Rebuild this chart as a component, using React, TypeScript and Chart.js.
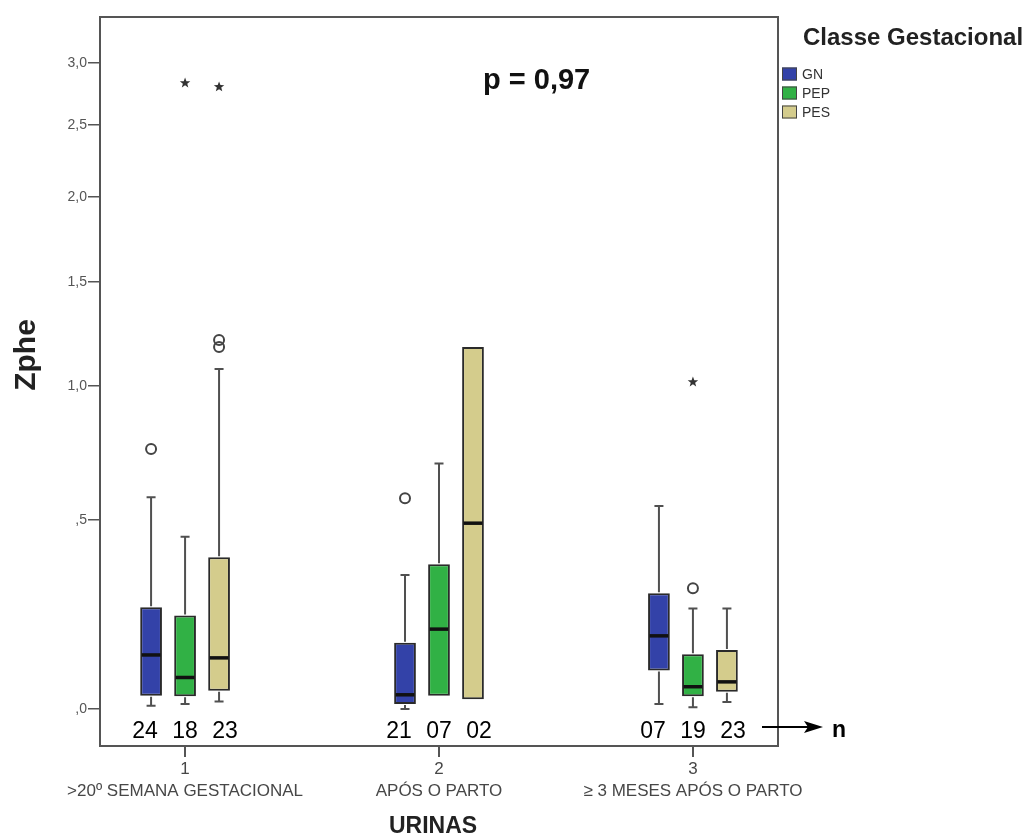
import React, { useEffect, useRef } from 'react';
import { Chart, registerables, LinearScale } from 'chart.js';

Chart.register(...registerables);

// Value axis drawn on a "safe log" scale: position ~ ln(1 + v)
class SafeLogScale extends LinearScale {
  static id = 'safelog';
  static defaults = {};
  getPixelForValue(value: number) {
    const lo = Math.log1p(this.min);
    const hi = Math.log1p(this.max);
    return this.getPixelForDecimal((Math.log1p(value) - lo) / (hi - lo));
  }
  getValueForPixel(pixel: number) {
    const lo = Math.log1p(this.min);
    const hi = Math.log1p(this.max);
    return Math.expm1(lo + this.getDecimalForPixel(pixel) * (hi - lo));
  }
}
Chart.register(SafeLogScale);

// ---- data ----
const groupCodes = [1, 2, 3];
const groupNames = ['>20º SEMANA GESTACIONAL', 'APÓS O PARTO', '≥ 3 MESES APÓS O PARTO'];
const seriesNames = ['GN', 'PEP', 'PES'];
const yTickValues = [0, 0.5, 1, 1.5, 2, 2.5, 3];

const gnMin = [0.007, 0.0, 0.011];
const gnQ1 = [0.029, 0.011, 0.086];
const gnMedian = [0.123, 0.031, 0.170];
const gnQ3 = [0.244, 0.153, 0.282];
const gnMax = [0.575, 0.333, 0.546];
const gnOutliers = [[0.747], [0.572], []];
const gnExtremes = [[], [], []];
const gnCount = [24, 21, 7];

const pepMin = [0.011, 0.029, 0.004];
const pepQ1 = [0.028, 0.029, 0.028];
const pepMedian = [0.070, 0.187, 0.049];
const pepQ3 = [0.222, 0.364, 0.125];
const pepMax = [0.447, 0.694, 0.241];
const pepOutliers = [[], [], [0.296]];
const pepExtremes = [[2.832], [], [1.017]];
const pepCount = [18, 7, 19];

const pesMin = [0.016, 0.021, 0.015];
const pesQ1 = [0.040, 0.021, 0.038];
const pesMedian = [0.116, 0.490, 0.060];
const pesQ3 = [0.385, 1.175, 0.135];
const pesMax = [1.074, 1.175, 0.241];
const pesOutliers = [[1.208, 1.175], [], []];
const pesExtremes = [[2.80], [], []];
const pesCount = [23, 2, 23];

const pValueText = 'p = 0,97';

const series = [
  { label: seriesNames[0], color: '#3342a8', min: gnMin, q1: gnQ1, med: gnMedian, q3: gnQ3, max: gnMax, out: gnOutliers, ext: gnExtremes, n: gnCount },
  { label: seriesNames[1], color: '#31b145', min: pepMin, q1: pepQ1, med: pepMedian, q3: pepQ3, max: pepMax, out: pepOutliers, ext: pepExtremes, n: pepCount },
  { label: seriesNames[2], color: '#d4cc8c', min: pesMin, q1: pesQ1, med: pesMedian, q3: pesQ3, max: pesMax, out: pesOutliers, ext: pesExtremes, n: pesCount },
];

const ARIAL = '"Liberation Sans", Arial, sans-serif';

const formatTick = (v: number) => {
  const s = v.toFixed(1).replace('.', ',');
  return s.startsWith('0') ? s.slice(1) : s;
};

function drawStar(ctx: CanvasRenderingContext2D, x: number, y: number, r: number) {
  ctx.beginPath();
  for (let k = 0; k < 10; k++) {
    const rad = k % 2 === 0 ? r : r * 0.42;
    const a = -Math.PI / 2 + (k * Math.PI) / 5;
    const px = x + rad * Math.cos(a);
    const py = y + rad * Math.sin(a);
    if (k === 0) ctx.moveTo(px, py); else ctx.lineTo(px, py);
  }
  ctx.closePath();
  ctx.fill();
}

const boxDecor = {
  id: 'boxDecor',
  afterDatasetsDraw(chart: any) {
    const ctx: CanvasRenderingContext2D = chart.ctx;
    const y = chart.scales.y;
    const x = chart.scales.x;
    const area = chart.chartArea;
    ctx.save();

    series.forEach((s, i) => {
      const meta = chart.getDatasetMeta(i);
      meta.data.forEach((bar: any, j: number) => {
        const cx = bar.x;
        const w = bar.width;
        // whiskers
        ctx.strokeStyle = '#505050';
        ctx.lineWidth = 2;
        const cap = 4.5;
        if (s.max[j] > s.q3[j]) {
          const top = y.getPixelForValue(s.max[j]);
          ctx.beginPath();
          ctx.moveTo(cx, y.getPixelForValue(s.q3[j]) - 1);
          ctx.lineTo(cx, top);
          ctx.moveTo(cx - cap, top);
          ctx.lineTo(cx + cap, top);
          ctx.stroke();
        }
        if (s.min[j] < s.q1[j]) {
          const bot = y.getPixelForValue(s.min[j]);
          ctx.beginPath();
          ctx.moveTo(cx, y.getPixelForValue(s.q1[j]) + 1);
          ctx.lineTo(cx, bot);
          ctx.moveTo(cx - cap, bot);
          ctx.lineTo(cx + cap, bot);
          ctx.stroke();
        }
        // median
        const my = y.getPixelForValue(s.med[j]);
        ctx.strokeStyle = '#111';
        ctx.lineWidth = 3.5;
        ctx.beginPath();
        ctx.moveTo(cx - w / 2 + 1.5, my);
        ctx.lineTo(cx + w / 2 - 1.5, my);
        ctx.stroke();
        // outliers (circles) and extremes (stars)
        ctx.strokeStyle = '#444';
        ctx.lineWidth = 2;
        s.out[j].forEach((v: number) => {
          ctx.beginPath();
          ctx.arc(cx, y.getPixelForValue(v), 5, 0, Math.PI * 2);
          ctx.stroke();
        });
        ctx.fillStyle = '#333';
        s.ext[j].forEach((v: number) => drawStar(ctx, cx, y.getPixelForValue(v), 5.5));
      });
    });

    // frame
    ctx.strokeStyle = '#555';
    ctx.lineWidth = 2;
    ctx.strokeRect(area.left, area.top, area.right - area.left, area.bottom - area.top);

    // group sizes
    ctx.fillStyle = '#000';
    ctx.font = `23px ${ARIAL}`;
    ctx.textAlign = 'center';
    ctx.textBaseline = 'alphabetic';
    groupCodes.forEach((g, j) => {
      const gx = x.getPixelForValue(g);
      series.forEach((s, i) => {
        ctx.fillText(String(s.n[j]).padStart(2, '0'), gx + (i - 1) * 40, 738);
      });
    });

    // arrow + n
    ctx.strokeStyle = '#000';
    ctx.lineWidth = 2;
    ctx.beginPath();
    ctx.moveTo(762, 727);
    ctx.lineTo(808, 727);
    ctx.stroke();
    ctx.beginPath();
    ctx.moveTo(823, 727);
    ctx.lineTo(804, 721);
    ctx.lineTo(808, 727);
    ctx.lineTo(804, 733);
    ctx.closePath();
    ctx.fill();
    ctx.font = `bold 23px ${ARIAL}`;
    ctx.textAlign = 'left';
    ctx.fillText('n', 832, 737);

    // p-value
    ctx.fillStyle = '#111';
    ctx.font = `bold 29px ${ARIAL}`;
    ctx.fillText(pValueText, 483, 89);

    // axis titles
    ctx.fillStyle = '#222';
    ctx.font = `bold 23px ${ARIAL}`;
    ctx.textAlign = 'center';
    ctx.fillText('URINAS', (area.left + area.right) / 2 - 6, 833);
    ctx.save();
    ctx.translate(35, 355);
    ctx.rotate(-Math.PI / 2);
    ctx.font = `bold 30px ${ARIAL}`;
    ctx.fillText('Zphe', 0, 0);
    ctx.restore();

    // legend
    ctx.textAlign = 'left';
    ctx.fillStyle = '#222';
    ctx.font = `bold 24px ${ARIAL}`;
    ctx.fillText('Classe Gestacional', 803, 45);
    ctx.font = `14px ${ARIAL}`;
    series.forEach((s, i) => {
      const cy = 74 + i * 19;
      ctx.fillStyle = s.color;
      ctx.fillRect(782, cy - 6.5, 15, 13);
      ctx.strokeStyle = '#444';
      ctx.lineWidth = 1;
      ctx.strokeRect(782.5, cy - 6, 14, 12);
      ctx.fillStyle = '#333';
      ctx.fillText(s.label, 802, cy + 5);
    });

    ctx.restore();
  },
};

export default function App() {
  const ref = useRef<HTMLCanvasElement>(null);
  useEffect(() => {
    if (!ref.current) return;
    const chart = new Chart(ref.current, {
      type: 'bar',
      data: {
        datasets: series.map((s) => ({
          label: s.label,
          data: groupCodes.map((g, j) => ({ x: g, y: [s.q1[j], s.q3[j]] })),
          backgroundColor: s.color,
          borderColor: '#2a2a2a',
          borderWidth: 2,
          borderSkipped: false,
          categoryPercentage: 0.4016,
          barPercentage: 0.64,
        })),
      } as any,
      options: {
        animation: false,
        responsive: false,
        layout: { padding: { top: 17, right: 258, left: 0, bottom: 0 } },
        plugins: { legend: { display: false }, tooltip: { enabled: false } },
        scales: {
          x: {
            type: 'linear',
            min: 0.665,
            max: 3.335,
            offset: false,
            border: { display: false },
            grid: { display: true, drawOnChartArea: false, drawTicks: true, tickLength: 11, color: '#555', lineWidth: 2, offset: false },
            afterBuildTicks: (scale: any) => {
              scale.ticks = groupCodes.map((g) => ({ value: g }));
            },
            afterFit: (scale: any) => {
              scale.height = 89;
            },
            ticks: {
              autoSkip: false,
              maxRotation: 0,
              minRotation: 0,
              padding: 1,
              color: '#474747',
              font: { family: ARIAL, size: 17, lineHeight: 1.3 },
              callback: (v: any) => [String(v), groupNames[groupCodes.indexOf(Number(v))]],
            },
          },
          y: {
            type: 'safelog',
            min: -0.0763,
            max: 3.415,
            bounds: 'data',
            border: { display: false },
            grid: { display: true, drawOnChartArea: false, drawTicks: true, tickLength: 12, color: '#555', lineWidth: 1.5 },
            afterBuildTicks: (scale: any) => {
              scale.ticks = yTickValues.map((v) => ({ value: v }));
            },
            afterFit: (scale: any) => {
              scale.width = 100;
            },
            ticks: {
              padding: 1,
              color: '#555',
              font: { family: ARIAL, size: 14 },
              callback: (v: any) => formatTick(Number(v)),
            },
          },
        },
      } as any,
      plugins: [boxDecor],
    });
    return () => chart.destroy();
  }, []);
  return (
    <div style={{ position: 'fixed', left: 0, top: 0, width: 1036, height: 835, background: '#fff' }}>
      <canvas ref={ref} width={1036} height={835} style={{ display: 'block' }} />
    </div>
  );
}
